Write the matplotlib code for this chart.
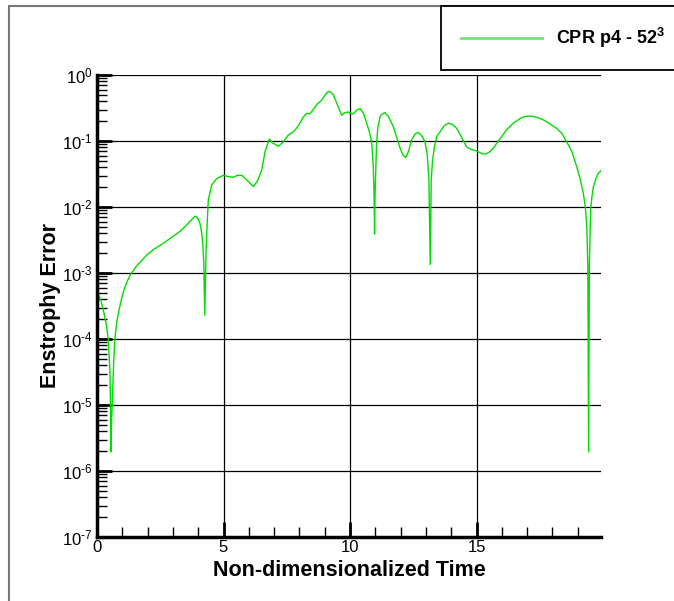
import numpy as np
import matplotlib.pyplot as plt
from matplotlib.patches import Rectangle
from matplotlib.ticker import FixedLocator, FuncFormatter, LogLocator, NullFormatter

plt.rcParams['font.family'] = ['Liberation Sans', 'DejaVu Sans']
plt.rcParams['mathtext.fontset'] = 'custom'
plt.rcParams['mathtext.rm'] = 'Liberation Sans'
plt.rcParams['mathtext.bf'] = 'Liberation Sans:bold'

# data (time, log10 of enstrophy error)
time = [0.00, 0.15, 0.28, 0.38, 0.44, 0.47, 0.51, 0.53, 0.55, 0.58, 0.62, 0.66,
        0.70, 0.78, 0.87, 0.97, 1.07, 1.20, 1.33, 1.55, 1.79, 1.96, 2.25, 2.62,
        2.95, 3.28, 3.55, 3.72, 3.87, 3.97, 4.07, 4.13, 4.18, 4.22, 4.26, 4.31,
        4.36, 4.40, 4.53, 4.73, 4.99, 5.20, 5.39, 5.55, 5.72, 5.95, 6.18, 6.35,
        6.51, 6.65, 6.81, 6.95, 7.17, 7.35, 7.56, 7.76, 7.90, 8.02, 8.15, 8.29,
        8.42, 8.55, 8.68, 8.88, 9.02, 9.14, 9.24, 9.34, 9.50, 9.67, 9.80, 9.93,
        10.03, 10.13, 10.27, 10.40, 10.53, 10.66, 10.78, 10.86, 10.92, 10.95,
        10.97, 10.99, 11.02, 11.05, 11.10, 11.19, 11.28, 11.38, 11.50, 11.71,
        11.85, 11.98, 12.10, 12.20, 12.30, 12.44, 12.58, 12.70, 12.85, 12.96,
        13.05, 13.12, 13.17, 13.21, 13.26, 13.34, 13.43, 13.56, 13.72, 13.89,
        14.05, 14.22, 14.42, 14.61, 14.80, 15.01, 15.20, 15.34, 15.50, 15.66,
        15.92, 16.19, 16.45, 16.72, 16.90, 17.11, 17.38, 17.64, 17.90, 18.17,
        18.38, 18.56, 18.78, 18.96, 19.10, 19.22, 19.30, 19.36, 19.40, 19.43,
        19.46, 19.51, 19.56, 19.62, 19.72, 19.81, 19.95]
log_err = [-3.28, -3.41, -3.61, -3.81, -4.00, -4.21, -4.47, -4.90, -5.71, -5.20,
           -4.77, -4.35, -4.02, -3.75, -3.56, -3.39, -3.25, -3.12, -3.02, -2.90,
           -2.80, -2.73, -2.64, -2.55, -2.46, -2.37, -2.27, -2.20, -2.14, -2.16,
           -2.25, -2.37, -2.55, -2.85, -3.64, -2.65, -2.20, -1.89, -1.67, -1.57,
           -1.52, -1.54, -1.55, -1.52, -1.52, -1.60, -1.69, -1.60, -1.44, -1.15,
           -0.97, -1.03, -1.08, -1.02, -0.91, -0.86, -0.80, -0.73, -0.64, -0.58,
           -0.59, -0.52, -0.45, -0.38, -0.30, -0.25, -0.26, -0.30, -0.45, -0.61,
           -0.57, -0.56, -0.58, -0.59, -0.53, -0.51, -0.58, -0.73, -0.88, -1.03,
           -1.40, -1.80, -2.41, -1.80, -1.40, -1.03, -0.80, -0.63, -0.59, -0.57,
           -0.62, -0.78, -0.95, -1.11, -1.22, -1.25, -1.17, -0.98, -0.89, -0.87,
           -0.93, -1.01, -1.20, -1.60, -2.87, -1.60, -1.30, -1.08, -0.93, -0.86,
           -0.77, -0.73, -0.75, -0.81, -0.95, -1.09, -1.13, -1.15, -1.19, -1.20,
           -1.17, -1.11, -0.97, -0.83, -0.73, -0.66, -0.63, -0.62, -0.64, -0.68,
           -0.74, -0.81, -0.89, -1.01, -1.17, -1.39, -1.58, -1.79, -2.00, -2.30,
           -2.90, -5.71, -2.90, -2.05, -1.85, -1.69, -1.57, -1.49, -1.44]
err = 10.0 ** np.array(log_err)

x_major = [0, 5, 10, 15]
label = 'CPR p4 - 52$^\\mathregular{3}$'

fig = plt.figure(figsize=(6.74, 6.01), dpi=100)
ax = fig.add_axes([97 / 674, 64 / 601, 504 / 674, 462 / 601])

line, = ax.plot(time, err, color='#00dd00', lw=1.0)

ax.set_yscale('log')
ax.set_xlim(0, 19.92)
ax.set_ylim(1e-7, 1e0)

ax.xaxis.set_major_locator(FixedLocator(x_major))
ax.xaxis.set_minor_locator(FixedLocator(np.arange(1, 20)))
ax.yaxis.set_major_locator(LogLocator(base=10, numticks=20))
ax.yaxis.set_minor_locator(LogLocator(base=10, subs=np.arange(2, 10), numticks=20))
ax.yaxis.set_minor_formatter(NullFormatter())
ax.yaxis.set_major_formatter(FuncFormatter(
    lambda v, p: '$\\mathregular{10^{\\text{-}%d}}$' % abs(int(round(np.log10(v))))
    if v < 0.5 else '$\\mathregular{10^{0}}$'))

ax.tick_params(which='major', direction='in', length=11, width=2, labelsize=12, pad=3)
ax.tick_params(which='minor', direction='in', length=7, width=1)
ax.tick_params(axis='x', which='major', pad=2)

ax.grid(True, which='major', color='black', lw=0.9)
for side in ['top', 'right']:
    ax.spines[side].set_visible(False)
for side in ['left', 'bottom']:
    ax.spines[side].set_linewidth(2.5)

ax.set_xlabel('Non-dimensionalized Time', fontsize=15.5, fontweight='bold', labelpad=4)
ax.set_ylabel('Enstrophy Error', fontsize=15.5, fontweight='bold', labelpad=1)

# outer frame
fig.add_artist(Rectangle((9 / 674, -0.05), 1.0, 1 - 6 / 601 + 0.05,
                         transform=fig.transFigure, fill=False,
                         edgecolor='#777777', lw=1.5, clip_on=False))

leg = fig.legend([line], [label], loc='upper right',
                 bbox_to_anchor=(685 / 674, 1 - 6 / 601),
                 bbox_transform=fig.transFigure, borderaxespad=0,
                 fancybox=False, edgecolor='black', framealpha=1,
                 prop={'weight': 'bold', 'size': 13}, handlelength=4.5,
                 handletextpad=0.78, borderpad=1.1)
leg.get_frame().set_linewidth(1.3)
leg.get_lines()[0].set_color('#77e077')
leg.get_lines()[0].set_linewidth(2)

fig.savefig('out.png', dpi=100)
